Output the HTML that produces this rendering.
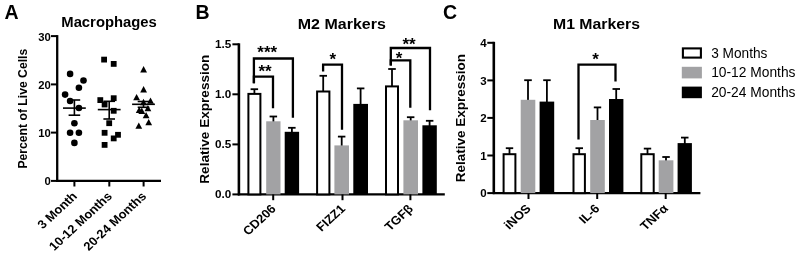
<!DOCTYPE html>
<html lang="en"><head><meta charset="utf-8"><title>Figure</title>
<style>
html,body{margin:0;padding:0;background:#fff;}
body{width:800px;height:258px;overflow:hidden;}
svg{display:block;font-family:"Liberation Sans",sans-serif;fill:#000;}
</style></head><body>
<svg width="800" height="258" viewBox="0 0 800 258">
<rect x="0" y="0" width="800" height="258" fill="#fff"/>
<text x="4.6" y="18.6" font-size="19.5" font-weight="bold" text-anchor="start">A</text>
<text x="195.6" y="18.6" font-size="19.5" font-weight="bold" text-anchor="start">B</text>
<text x="443.1" y="18.8" font-size="19.5" font-weight="bold" text-anchor="start">C</text>
<line x1="57.2" y1="35.1" x2="57.2" y2="181.9" stroke="#000" stroke-width="2.3"/>
<line x1="56.2" y1="180.9" x2="161.0" y2="180.9" stroke="#000" stroke-width="2.2"/>
<line x1="51.0" y1="180.9" x2="57.2" y2="180.9" stroke="#000" stroke-width="2"/>
<text x="50.8" y="185.4" font-size="11.3" font-weight="bold" text-anchor="end">0</text>
<line x1="51.0" y1="132.6" x2="57.2" y2="132.6" stroke="#000" stroke-width="2"/>
<text x="50.8" y="137.1" font-size="11.3" font-weight="bold" text-anchor="end">10</text>
<line x1="51.0" y1="84.4" x2="57.2" y2="84.4" stroke="#000" stroke-width="2"/>
<text x="50.8" y="88.9" font-size="11.3" font-weight="bold" text-anchor="end">20</text>
<line x1="51.0" y1="36.1" x2="57.2" y2="36.1" stroke="#000" stroke-width="2"/>
<text x="50.8" y="40.6" font-size="11.3" font-weight="bold" text-anchor="end">30</text>
<line x1="74.4" y1="180.9" x2="74.4" y2="186.5" stroke="#000" stroke-width="2"/>
<line x1="109.3" y1="180.9" x2="109.3" y2="186.5" stroke="#000" stroke-width="2"/>
<line x1="143.6" y1="180.9" x2="143.6" y2="186.5" stroke="#000" stroke-width="2"/>
<text x="61.3" y="27.3" font-size="14.5" font-weight="bold" text-anchor="start" textLength="95.5" lengthAdjust="spacingAndGlyphs">Macrophages</text>
<text x="27.3" y="168.6" font-size="12" font-weight="bold" text-anchor="start" transform="rotate(-90 27.3 168.6)" textLength="119.8" lengthAdjust="spacingAndGlyphs">Percent of Live Cells</text>
<text transform="translate(77.9 197.0) scale(1.08 1) rotate(-45)" font-size="12" font-weight="bold" text-anchor="end">3 Month</text>
<text transform="translate(112.8 197.0) scale(1.08 1) rotate(-45)" font-size="12" font-weight="bold" text-anchor="end">10-12 Months</text>
<text transform="translate(147.1 197.0) scale(1.08 1) rotate(-45)" font-size="12" font-weight="bold" text-anchor="end">20-24 Months</text>
<circle cx="70.1" cy="73.9" r="3.3"/>
<circle cx="83.5" cy="80.5" r="3.3"/>
<circle cx="78.9" cy="87.8" r="3.3"/>
<circle cx="65.1" cy="94.6" r="3.3"/>
<circle cx="70.1" cy="101" r="3.3"/>
<circle cx="78.9" cy="108" r="3.3"/>
<circle cx="74.4" cy="123.2" r="3.3"/>
<circle cx="70.1" cy="132.8" r="3.3"/>
<circle cx="78.9" cy="132.8" r="3.3"/>
<circle cx="74.4" cy="142.9" r="3.3"/>
<rect x="101.2" y="56.7" width="5.8" height="5.8"/>
<rect x="110.8" y="61.0" width="5.8" height="5.8"/>
<rect x="97.4" y="97.2" width="5.8" height="5.8"/>
<rect x="110.8" y="95.3" width="5.8" height="5.8"/>
<rect x="101.7" y="101.6" width="5.8" height="5.8"/>
<rect x="110.8" y="107.9" width="5.8" height="5.8"/>
<rect x="106.3" y="120.3" width="5.8" height="5.8"/>
<rect x="101.7" y="129.9" width="5.8" height="5.8"/>
<rect x="115.1" y="131.9" width="5.8" height="5.8"/>
<rect x="110.8" y="135.5" width="5.8" height="5.8"/>
<rect x="101.7" y="142.0" width="5.8" height="5.8"/>
<polygon points="143.6,66.0 140.2,72.4 147.0,72.4"/>
<polygon points="143.6,86.1 140.2,92.5 147.0,92.5"/>
<polygon points="136.6,93.9 133.2,100.3 140.0,100.3"/>
<polygon points="150.5,97.4 147.1,103.8 153.9,103.8"/>
<polygon points="143.5,98.8 140.1,105.2 146.9,105.2"/>
<polygon points="139.2,106.7 135.8,113.1 142.6,113.1"/>
<polygon points="141.8,107.5 138.4,113.9 145.2,113.9"/>
<polygon points="147.9,104.9 144.5,111.3 151.3,111.3"/>
<polygon points="146.1,111.9 142.7,118.3 149.5,118.3"/>
<polygon points="148.7,118.9 145.3,125.3 152.1,125.3"/>
<polygon points="138.8,122.4 135.4,128.8 142.2,128.8"/>
<line x1="63.0" y1="108.1" x2="85.8" y2="108.1" stroke="#000" stroke-width="1.6"/>
<line x1="74.4" y1="100.0" x2="74.4" y2="115.2" stroke="#000" stroke-width="1.6"/>
<line x1="68.6" y1="100.0" x2="80.2" y2="100.0" stroke="#000" stroke-width="1.6"/>
<line x1="68.6" y1="115.2" x2="80.2" y2="115.2" stroke="#000" stroke-width="1.6"/>
<line x1="97.8" y1="109.6" x2="120.6" y2="109.6" stroke="#000" stroke-width="1.6"/>
<line x1="109.2" y1="101.3" x2="109.2" y2="119.0" stroke="#000" stroke-width="1.6"/>
<line x1="103.4" y1="101.3" x2="115.0" y2="101.3" stroke="#000" stroke-width="1.6"/>
<line x1="103.4" y1="119.0" x2="115.0" y2="119.0" stroke="#000" stroke-width="1.6"/>
<line x1="132.1" y1="104.3" x2="154.9" y2="104.3" stroke="#000" stroke-width="1.6"/>
<line x1="143.5" y1="101.5" x2="143.5" y2="107.3" stroke="#000" stroke-width="1.6"/>
<line x1="137.7" y1="101.5" x2="149.3" y2="101.5" stroke="#000" stroke-width="1.6"/>
<line x1="137.7" y1="107.3" x2="149.3" y2="107.3" stroke="#000" stroke-width="1.6"/>
<line x1="238.9" y1="43.3" x2="238.9" y2="195.4" stroke="#000" stroke-width="2.6"/>
<line x1="237.9" y1="194.4" x2="444.8" y2="194.4" stroke="#000" stroke-width="2.2"/>
<line x1="232.4" y1="194.4" x2="238.9" y2="194.4" stroke="#000" stroke-width="2"/>
<text x="231.3" y="198.3" font-size="11.7" font-weight="bold" text-anchor="end">0.0</text>
<line x1="232.4" y1="144.4" x2="238.9" y2="144.4" stroke="#000" stroke-width="2"/>
<text x="231.3" y="148.3" font-size="11.7" font-weight="bold" text-anchor="end">0.5</text>
<line x1="232.4" y1="94.3" x2="238.9" y2="94.3" stroke="#000" stroke-width="2"/>
<text x="231.3" y="98.2" font-size="11.7" font-weight="bold" text-anchor="end">1.0</text>
<line x1="232.4" y1="44.3" x2="238.9" y2="44.3" stroke="#000" stroke-width="2"/>
<text x="231.3" y="48.2" font-size="11.7" font-weight="bold" text-anchor="end">1.5</text>
<text x="297.8" y="28.9" font-size="15.5" font-weight="bold" text-anchor="start" textLength="88.0" lengthAdjust="spacingAndGlyphs">M2 Markers</text>
<text x="209.5" y="183.7" font-size="13.7" font-weight="bold" text-anchor="start" transform="rotate(-90 209.5 183.7)" textLength="129.1" lengthAdjust="spacingAndGlyphs">Relative Expression</text>
<line x1="254.4" y1="89.2" x2="254.4" y2="93.9" stroke="#000" stroke-width="1.8"/>
<line x1="250.6" y1="89.2" x2="258.1" y2="89.2" stroke="#000" stroke-width="1.8"/>
<rect x="248.4" y="93.9" width="12.0" height="100.5" fill="#fff" stroke="#000" stroke-width="2"/>
<line x1="273.4" y1="116.5" x2="273.4" y2="122.3" stroke="#000" stroke-width="1.8"/>
<line x1="269.6" y1="116.5" x2="277.1" y2="116.5" stroke="#000" stroke-width="1.8"/>
<rect x="266.2" y="121.3" width="14.3" height="73.1" fill="#a2a2a4"/>
<line x1="291.9" y1="127.8" x2="291.9" y2="132.8" stroke="#000" stroke-width="1.8"/>
<line x1="288.1" y1="127.8" x2="295.6" y2="127.8" stroke="#000" stroke-width="1.8"/>
<rect x="284.7" y="131.8" width="14.4" height="62.6" fill="#000"/>
<line x1="323.2" y1="75.8" x2="323.2" y2="91.5" stroke="#000" stroke-width="1.8"/>
<line x1="319.5" y1="75.8" x2="327.0" y2="75.8" stroke="#000" stroke-width="1.8"/>
<rect x="317.1" y="91.5" width="12.3" height="102.9" fill="#fff" stroke="#000" stroke-width="2"/>
<line x1="341.7" y1="136.6" x2="341.7" y2="146.4" stroke="#000" stroke-width="1.8"/>
<line x1="337.9" y1="136.6" x2="345.4" y2="136.6" stroke="#000" stroke-width="1.8"/>
<rect x="334.4" y="145.4" width="14.6" height="49.0" fill="#a2a2a4"/>
<line x1="360.6" y1="88.4" x2="360.6" y2="104.9" stroke="#000" stroke-width="1.8"/>
<line x1="356.9" y1="88.4" x2="364.4" y2="88.4" stroke="#000" stroke-width="1.8"/>
<rect x="353.3" y="103.9" width="14.7" height="90.5" fill="#000"/>
<line x1="392.0" y1="69.0" x2="392.0" y2="86.4" stroke="#000" stroke-width="1.8"/>
<line x1="388.2" y1="69.0" x2="395.8" y2="69.0" stroke="#000" stroke-width="1.8"/>
<rect x="386.0" y="86.4" width="12.0" height="108.0" fill="#fff" stroke="#000" stroke-width="2"/>
<line x1="410.7" y1="117.2" x2="410.7" y2="121.3" stroke="#000" stroke-width="1.8"/>
<line x1="406.9" y1="117.2" x2="414.4" y2="117.2" stroke="#000" stroke-width="1.8"/>
<rect x="403.4" y="120.3" width="14.6" height="74.1" fill="#a2a2a4"/>
<line x1="429.6" y1="120.8" x2="429.6" y2="126.3" stroke="#000" stroke-width="1.8"/>
<line x1="425.9" y1="120.8" x2="433.4" y2="120.8" stroke="#000" stroke-width="1.8"/>
<rect x="422.4" y="125.3" width="14.4" height="69.1" fill="#000"/>
<line x1="273.2" y1="194.4" x2="273.2" y2="200.2" stroke="#000" stroke-width="2"/>
<text transform="translate(276.7 209.5) scale(1.08 1) rotate(-45)" font-size="12" font-weight="bold" text-anchor="end">CD206</text>
<line x1="342.5" y1="194.4" x2="342.5" y2="200.2" stroke="#000" stroke-width="2"/>
<text transform="translate(346.0 209.5) scale(1.08 1) rotate(-45)" font-size="12" font-weight="bold" text-anchor="end">FIZZ1</text>
<line x1="410.4" y1="194.4" x2="410.4" y2="200.2" stroke="#000" stroke-width="2"/>
<text transform="translate(413.9 209.5) scale(1.08 1) rotate(-45)" font-size="12" font-weight="bold" text-anchor="end">TGFβ</text>
<polyline points="253.9,83.2 253.9,58.5 292.9,58.5 292.9,117.8" fill="none" stroke="#000" stroke-width="2.3" stroke-linejoin="miter"/>
<polyline points="253.9,83.2 253.9,76.6 273.0,76.6 273.0,108.2" fill="none" stroke="#000" stroke-width="2.3" stroke-linejoin="miter"/>
<text x="267.3" y="58.0" font-size="17" font-weight="bold" text-anchor="middle">***</text>
<text x="265.0" y="77.2" font-size="17" font-weight="bold" text-anchor="middle">**</text>
<polyline points="323.1,71.6 323.1,64.6 342.0,64.6 342.0,129.8" fill="none" stroke="#000" stroke-width="2.3" stroke-linejoin="miter"/>
<text x="332.7" y="65.0" font-size="17" font-weight="bold" text-anchor="middle">*</text>
<polyline points="390.8,65.5 390.8,48.0 430.0,48.0 430.0,110.2" fill="none" stroke="#000" stroke-width="2.3" stroke-linejoin="miter"/>
<polyline points="390.8,65.5 390.8,60.3 410.3,60.3 410.3,107.7" fill="none" stroke="#000" stroke-width="2.3" stroke-linejoin="miter"/>
<text x="409.0" y="49.5" font-size="17" font-weight="bold" text-anchor="middle">**</text>
<text x="399.0" y="63.6" font-size="17" font-weight="bold" text-anchor="middle">*</text>
<line x1="493.8" y1="41.8" x2="493.8" y2="194.1" stroke="#000" stroke-width="2.6"/>
<line x1="492.8" y1="193.1" x2="700.4" y2="193.1" stroke="#000" stroke-width="2.2"/>
<line x1="487.3" y1="193.1" x2="493.8" y2="193.1" stroke="#000" stroke-width="2"/>
<text x="486.6" y="197.3" font-size="11.5" font-weight="bold" text-anchor="end">0</text>
<line x1="487.3" y1="155.5" x2="493.8" y2="155.5" stroke="#000" stroke-width="2"/>
<text x="486.6" y="159.7" font-size="11.5" font-weight="bold" text-anchor="end">1</text>
<line x1="487.3" y1="117.9" x2="493.8" y2="117.9" stroke="#000" stroke-width="2"/>
<text x="486.6" y="122.1" font-size="11.5" font-weight="bold" text-anchor="end">2</text>
<line x1="487.3" y1="80.4" x2="493.8" y2="80.4" stroke="#000" stroke-width="2"/>
<text x="486.6" y="84.6" font-size="11.5" font-weight="bold" text-anchor="end">3</text>
<line x1="487.3" y1="42.8" x2="493.8" y2="42.8" stroke="#000" stroke-width="2"/>
<text x="486.6" y="47.0" font-size="11.5" font-weight="bold" text-anchor="end">4</text>
<text x="553.0" y="28.9" font-size="15.5" font-weight="bold" text-anchor="start" textLength="87.0" lengthAdjust="spacingAndGlyphs">M1 Markers</text>
<text x="464.9" y="182.2" font-size="13.5" font-weight="bold" text-anchor="start" transform="rotate(-90 464.9 182.2)" textLength="128.3" lengthAdjust="spacingAndGlyphs">Relative Expression</text>
<line x1="509.5" y1="148.2" x2="509.5" y2="154.2" stroke="#000" stroke-width="1.8"/>
<line x1="505.8" y1="148.2" x2="513.2" y2="148.2" stroke="#000" stroke-width="1.8"/>
<rect x="503.6" y="154.2" width="11.8" height="38.9" fill="#fff" stroke="#000" stroke-width="2"/>
<line x1="528.0" y1="80.2" x2="528.0" y2="100.8" stroke="#000" stroke-width="1.8"/>
<line x1="524.2" y1="80.2" x2="531.8" y2="80.2" stroke="#000" stroke-width="1.8"/>
<rect x="520.7" y="99.8" width="14.6" height="93.3" fill="#a2a2a4"/>
<line x1="546.9" y1="80.2" x2="546.9" y2="102.6" stroke="#000" stroke-width="1.8"/>
<line x1="543.2" y1="80.2" x2="550.7" y2="80.2" stroke="#000" stroke-width="1.8"/>
<rect x="539.6" y="101.6" width="14.6" height="91.5" fill="#000"/>
<line x1="579.2" y1="148.2" x2="579.2" y2="154.2" stroke="#000" stroke-width="1.8"/>
<line x1="575.5" y1="148.2" x2="583.0" y2="148.2" stroke="#000" stroke-width="1.8"/>
<rect x="573.5" y="154.2" width="11.4" height="38.9" fill="#fff" stroke="#000" stroke-width="2"/>
<line x1="597.5" y1="107.4" x2="597.5" y2="121.0" stroke="#000" stroke-width="1.8"/>
<line x1="593.8" y1="107.4" x2="601.2" y2="107.4" stroke="#000" stroke-width="1.8"/>
<rect x="590.2" y="120.0" width="14.6" height="73.1" fill="#a2a2a4"/>
<line x1="616.2" y1="89.0" x2="616.2" y2="100.0" stroke="#000" stroke-width="1.8"/>
<line x1="612.5" y1="89.0" x2="620.0" y2="89.0" stroke="#000" stroke-width="1.8"/>
<rect x="609.0" y="99.0" width="14.4" height="94.1" fill="#000"/>
<line x1="647.5" y1="148.6" x2="647.5" y2="154.2" stroke="#000" stroke-width="1.8"/>
<line x1="643.8" y1="148.6" x2="651.2" y2="148.6" stroke="#000" stroke-width="1.8"/>
<rect x="641.3" y="154.2" width="12.4" height="38.9" fill="#fff" stroke="#000" stroke-width="2"/>
<line x1="666.0" y1="157.0" x2="666.0" y2="161.3" stroke="#000" stroke-width="1.8"/>
<line x1="662.3" y1="157.0" x2="669.8" y2="157.0" stroke="#000" stroke-width="1.8"/>
<rect x="658.7" y="160.3" width="14.7" height="32.8" fill="#a2a2a4"/>
<line x1="684.8" y1="137.6" x2="684.8" y2="144.1" stroke="#000" stroke-width="1.8"/>
<line x1="681.0" y1="137.6" x2="688.5" y2="137.6" stroke="#000" stroke-width="1.8"/>
<rect x="677.6" y="143.1" width="14.3" height="50.0" fill="#000"/>
<line x1="528.5" y1="193.1" x2="528.5" y2="199.0" stroke="#000" stroke-width="2"/>
<text transform="translate(531.7 209.3) scale(1.08 1) rotate(-45)" font-size="12" font-weight="bold" text-anchor="end">iNOS</text>
<line x1="597.2" y1="193.1" x2="597.2" y2="199.0" stroke="#000" stroke-width="2"/>
<text transform="translate(600.4 209.3) scale(1.08 1) rotate(-45)" font-size="12" font-weight="bold" text-anchor="end">IL-6</text>
<line x1="665.7" y1="193.1" x2="665.7" y2="199.0" stroke="#000" stroke-width="2"/>
<text transform="translate(668.9 209.3) scale(1.08 1) rotate(-45)" font-size="12" font-weight="bold" text-anchor="end">TNFα</text>
<polyline points="578.5,139.6 578.5,64.6 615.5,64.6 615.5,81.4" fill="none" stroke="#000" stroke-width="2.3" stroke-linejoin="miter"/>
<text x="595.5" y="65.0" font-size="17" font-weight="bold" text-anchor="middle">*</text>
<rect x="682.9" y="48.4" width="18" height="9.2" fill="#fff" stroke="#000" stroke-width="2.1"/>
<rect x="681.8" y="66.8" width="20.1" height="11.6" fill="#a2a2a4"/>
<rect x="681.8" y="86.6" width="20.1" height="11.6" fill="#000"/>
<text x="711.2" y="57.5" font-size="13.8" font-weight="normal" text-anchor="start" textLength="56.2" lengthAdjust="spacingAndGlyphs">3 Months</text>
<text x="711.2" y="77.3" font-size="13.8" font-weight="normal" text-anchor="start" textLength="84.3" lengthAdjust="spacingAndGlyphs">10-12 Months</text>
<text x="711.2" y="97.3" font-size="13.8" font-weight="normal" text-anchor="start" textLength="84.3" lengthAdjust="spacingAndGlyphs">20-24 Months</text>
</svg>
</body></html>
